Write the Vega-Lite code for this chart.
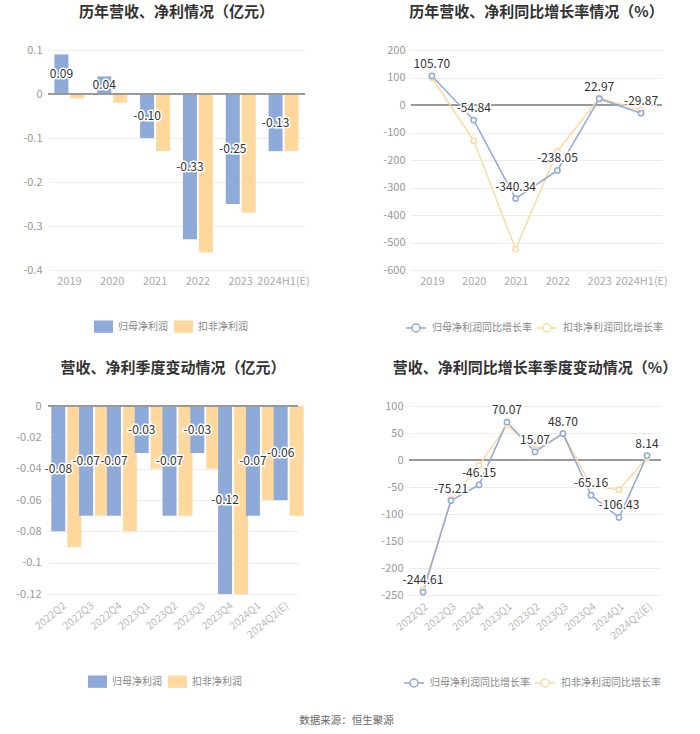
{
  "$schema": "https://vega.github.io/schema/vega-lite/v6.json",
  "background": "white",
  "padding": {"left": 15, "top": 5, "right": 5, "bottom": 5},
  "config": {
    "view": {"stroke": null},
    "font": "Noto Sans CJK SC",
    "locale": {"number": {"decimal": ".", "thousands": ",", "grouping": [3], "currency": ["", ""], "minus": "-"}},
    "axis": {"labelColor": "#999999", "labelFontSize": 11, "gridColor": "#ececec", "domain": false, "ticks": false, "title": null, "labelFont": "Noto Sans CJK SC"},
    "title": {"fontSize": 15, "fontWeight": "bold", "color": "#333333", "offset": 24, "font": "Noto Sans CJK SC"},
    "legend": {"labelColor": "#888888", "labelFontSize": 10, "labelFont": "Noto Sans CJK SC", "title": null}
  },
  "title": {"text": "数据来源：恒生聚源", "orient": "bottom", "anchor": "middle", "fontSize": 10.5, "fontWeight": "normal", "color": "#666666", "offset": 26},
  "spacing": 26,
  "resolve": {"scale": {"color": "independent"}},
  "vconcat": [
    {
      "spacing": 72,
      "resolve": {"scale": {"color": "independent"}},
      "hconcat": [
        {
          "width": 257,
          "height": 220,
          "title": "历年营收、净利情况（亿元）",
          "data": {"values": [
            {"period": "2019", "series": "归母净利润", "value": 0.09},
            {"period": "2019", "series": "扣非净利润", "value": -0.01},
            {"period": "2020", "series": "归母净利润", "value": 0.04},
            {"period": "2020", "series": "扣非净利润", "value": -0.02},
            {"period": "2021", "series": "归母净利润", "value": -0.10},
            {"period": "2021", "series": "扣非净利润", "value": -0.13},
            {"period": "2022", "series": "归母净利润", "value": -0.33},
            {"period": "2022", "series": "扣非净利润", "value": -0.36},
            {"period": "2023", "series": "归母净利润", "value": -0.25},
            {"period": "2023", "series": "扣非净利润", "value": -0.27},
            {"period": "2024H1(E)", "series": "归母净利润", "value": -0.13},
            {"period": "2024H1(E)", "series": "扣非净利润", "value": -0.13}
          ]},
          "layer": [
            {
              "layer": [
                {
                  "mark": {"type": "bar"},
                  "encoding": {
                    "x": {"field": "period", "type": "nominal", "sort": null, "scale": {"paddingInner": 0.3, "paddingOuter": 0.15}, "axis": {"labelAngle": 0, "grid": false, "labelPadding": 5, "labelColor": "#aaaaaa"}},
                    "xOffset": {"field": "series", "type": "nominal", "scale": {"domain": ["归母净利润", "扣非净利润"], "paddingInner": 0.125}},
                    "y": {"field": "value", "type": "quantitative", "scale": {"domain": [-0.4, 0.1]}, "axis": {"values": [-0.4, -0.3, -0.2, -0.1, 0, 0.1], "tickCount": 12, "format": "~g", "labelPadding": 6, "labelOverlap": false}},
                    "color": {"field": "series", "type": "nominal", "scale": {"domain": ["归母净利润", "扣非净利润"], "range": ["#8DAAD9", "#FFD89E"]},
                      "legend": {"orient": "none", "direction": "horizontal", "legendX": 46, "legendY": 267, "symbolType": "M-1,-0.65H1V0.65H-1Z", "symbolSize": 361, "symbolStrokeWidth": 0, "labelOffset": 5, "columnPadding": 6}}
                  }
                },
                {"mark": {"type": "rule", "color": "#999999", "strokeWidth": 1}, "encoding": {"y": {"datum": 0}}}
              ]
            },
            {
              "transform": [{"filter": "datum.series === '归母净利润'"}],
              "encoding": {
                "x": {"field": "period", "type": "nominal", "sort": null},
                "xOffset": {"field": "series", "type": "nominal"},
                "y": {"field": "value", "type": "quantitative", "scale": {"domain": [-0.8, 0.2]}, "axis": null},
                "text": {"field": "value", "type": "quantitative", "format": ".2f"}
              },
              "layer": [
                {"mark": {"type": "text", "fontSize": 12, "stroke": "white", "strokeWidth": 3, "fill": "white", "baseline": "middle"}},
                {"mark": {"type": "text", "fontSize": 12, "fill": "#333333", "baseline": "middle"}}
              ]
            }
          ],
          "resolve": {"scale": {"y": "independent"}}
        },
        {
          "width": 251,
          "height": 220,
          "title": "历年营收、净利同比增长率情况（%）",
          "data": {"values": [
            {"period": "2019", "series": "扣非净利润同比增长率", "value": 100},
            {"period": "2020", "series": "扣非净利润同比增长率", "value": -130},
            {"period": "2021", "series": "扣非净利润同比增长率", "value": -524},
            {"period": "2022", "series": "扣非净利润同比增长率", "value": -168},
            {"period": "2023", "series": "扣非净利润同比增长率", "value": 25},
            {"period": "2024H1(E)", "series": "扣非净利润同比增长率", "value": -18},
            {"period": "2019", "series": "归母净利润同比增长率", "value": 105.70},
            {"period": "2020", "series": "归母净利润同比增长率", "value": -54.84},
            {"period": "2021", "series": "归母净利润同比增长率", "value": -340.34},
            {"period": "2022", "series": "归母净利润同比增长率", "value": -238.05},
            {"period": "2023", "series": "归母净利润同比增长率", "value": 22.97},
            {"period": "2024H1(E)", "series": "归母净利润同比增长率", "value": -29.87}
          ]},
          "encoding": {
            "y": {"field": "value", "type": "quantitative", "scale": {"domain": [-600, 200]}, "axis": {"values": [-600, -500, -400, -300, -200, -100, 0, 100, 200], "tickCount": 12, "labelPadding": 6, "labelOverlap": false}}
          },
          "layer": [
            {"mark": {"type": "rule", "color": "#999999", "strokeWidth": 1}, "encoding": {"y": {"datum": 0}}},
            {
              "mark": {"type": "line", "strokeWidth": 1.5, "point": {"filled": false, "fill": "white", "size": 28, "strokeWidth": 1.5}},
              "encoding": {
                "x": {"field": "period", "type": "nominal", "sort": null, "scale": {"type": "point", "padding": 0.5}, "axis": {"labelAngle": 0, "grid": false, "labelPadding": 5, "labelColor": "#aaaaaa"}},
                "color": {"field": "series", "type": "nominal", "scale": {"domain": ["归母净利润同比增长率", "扣非净利润同比增长率"], "range": ["#8EA9DA", "#FDD9A1"]},
                  "legend": {"orient": "none", "direction": "horizontal", "legendX": -6, "legendY": 267, "symbolType": "M-1,0H-0.4M0.4,0H1M0.4,0A0.4,0.4,0,1,1,-0.4,0A0.4,0.4,0,1,1,0.4,0", "symbolSize": 400, "symbolStrokeWidth": 1.5, "symbolFillColor": "white", "labelOffset": 5, "columnPadding": 2}}
              }
            },
            {
              "transform": [{"filter": "datum.series === '归母净利润同比增长率'"}],
              "encoding": {
                "x": {"field": "period", "type": "nominal", "sort": null},
                "text": {"field": "value", "type": "quantitative", "format": ".2f"}
              },
              "layer": [
                {"mark": {"type": "text", "fontSize": 12, "stroke": "white", "strokeWidth": 3, "fill": "white", "baseline": "bottom", "dy": -5}},
                {"mark": {"type": "text", "fontSize": 12, "fill": "#333333", "baseline": "bottom", "dy": -5}}
              ]
            }
          ]
        }
      ]
    },
    {
      "spacing": 76,
      "resolve": {"scale": {"color": "independent"}},
      "hconcat": [
        {
          "width": 250,
          "height": 188,
          "title": "营收、净利季度变动情况（亿元）",
          "data": {"values": [
            {"period": "2022Q2", "series": "归母净利润", "value": -0.08},
            {"period": "2022Q2", "series": "扣非净利润", "value": -0.09},
            {"period": "2022Q3", "series": "归母净利润", "value": -0.07},
            {"period": "2022Q3", "series": "扣非净利润", "value": -0.07},
            {"period": "2022Q4", "series": "归母净利润", "value": -0.07},
            {"period": "2022Q4", "series": "扣非净利润", "value": -0.08},
            {"period": "2023Q1", "series": "归母净利润", "value": -0.03},
            {"period": "2023Q1", "series": "扣非净利润", "value": -0.04},
            {"period": "2023Q2", "series": "归母净利润", "value": -0.07},
            {"period": "2023Q2", "series": "扣非净利润", "value": -0.07},
            {"period": "2023Q3", "series": "归母净利润", "value": -0.03},
            {"period": "2023Q3", "series": "扣非净利润", "value": -0.04},
            {"period": "2023Q4", "series": "归母净利润", "value": -0.12},
            {"period": "2023Q4", "series": "扣非净利润", "value": -0.12},
            {"period": "2024Q1", "series": "归母净利润", "value": -0.07},
            {"period": "2024Q1", "series": "扣非净利润", "value": -0.06},
            {"period": "2024Q2(E)", "series": "归母净利润", "value": -0.06},
            {"period": "2024Q2(E)", "series": "扣非净利润", "value": -0.07}
          ]},
          "layer": [
            {
              "layer": [
                {
                  "mark": {"type": "bar"},
                  "encoding": {
                    "x": {"field": "period", "type": "nominal", "sort": null, "scale": {"paddingInner": 0.245, "paddingOuter": 0.12}, "axis": {"labelAngle": -40, "grid": false, "labelPadding": 6, "labelFontSize": 10.5, "labelColor": "#bbbbbb"}},
                    "xOffset": {"field": "series", "type": "nominal", "scale": {"domain": ["归母净利润", "扣非净利润"], "paddingInner": 0.2}},
                    "y": {"field": "value", "type": "quantitative", "scale": {"domain": [-0.12, 0]}, "axis": {"values": [-0.12, -0.1, -0.08, -0.06, -0.04, -0.02, 0], "tickCount": 12, "format": "~g", "labelPadding": 7, "labelOverlap": false}},
                    "color": {"field": "series", "type": "nominal", "scale": {"domain": ["归母净利润", "扣非净利润"], "range": ["#8DAAD9", "#FFD89E"]},
                      "legend": {"orient": "none", "direction": "horizontal", "legendX": 40, "legendY": 266, "symbolType": "M-1,-0.65H1V0.65H-1Z", "symbolSize": 361, "symbolStrokeWidth": 0, "labelOffset": 5, "columnPadding": 6}}
                  }
                },
                {"mark": {"type": "rule", "color": "#999999", "strokeWidth": 1}, "encoding": {"y": {"datum": 0}}}
              ]
            },
            {
              "transform": [{"filter": "datum.series === '归母净利润'"}],
              "encoding": {
                "x": {"field": "period", "type": "nominal", "sort": null},
                "xOffset": {"field": "series", "type": "nominal"},
                "y": {"field": "value", "type": "quantitative", "scale": {"domain": [-0.24, 0]}, "axis": null},
                "text": {"field": "value", "type": "quantitative", "format": ".2f"}
              },
              "layer": [
                {"mark": {"type": "text", "fontSize": 12, "stroke": "white", "strokeWidth": 3, "fill": "white", "baseline": "middle"}},
                {"mark": {"type": "text", "fontSize": 12, "fill": "#333333", "baseline": "middle"}}
              ]
            }
          ],
          "resolve": {"scale": {"y": "independent"}}
        },
        {
          "width": 252,
          "height": 189,
          "title": "营收、净利同比增长率季度变动情况（%）",
          "data": {"values": [
            {"period": "2022Q2", "series": "扣非净利润同比增长率", "value": -240},
            {"period": "2022Q3", "series": "扣非净利润同比增长率", "value": -73},
            {"period": "2022Q4", "series": "扣非净利润同比增长率", "value": -10},
            {"period": "2023Q1", "series": "扣非净利润同比增长率", "value": 65},
            {"period": "2023Q2", "series": "扣非净利润同比增长率", "value": 19},
            {"period": "2023Q3", "series": "扣非净利润同比增长率", "value": 49},
            {"period": "2023Q4", "series": "扣非净利润同比增长率", "value": -48},
            {"period": "2024Q1", "series": "扣非净利润同比增长率", "value": -55},
            {"period": "2024Q2(E)", "series": "扣非净利润同比增长率", "value": 4},
            {"period": "2022Q2", "series": "归母净利润同比增长率", "value": -244.61},
            {"period": "2022Q3", "series": "归母净利润同比增长率", "value": -75.21},
            {"period": "2022Q4", "series": "归母净利润同比增长率", "value": -46.15},
            {"period": "2023Q1", "series": "归母净利润同比增长率", "value": 70.07},
            {"period": "2023Q2", "series": "归母净利润同比增长率", "value": 15.07},
            {"period": "2023Q3", "series": "归母净利润同比增长率", "value": 48.70},
            {"period": "2023Q4", "series": "归母净利润同比增长率", "value": -65.16},
            {"period": "2024Q1", "series": "归母净利润同比增长率", "value": -106.43},
            {"period": "2024Q2(E)", "series": "归母净利润同比增长率", "value": 8.14}
          ]},
          "encoding": {
            "y": {"field": "value", "type": "quantitative", "scale": {"domain": [-250, 100]}, "axis": {"values": [-250, -200, -150, -100, -50, 0, 50, 100], "tickCount": 12, "labelPadding": 6, "labelOverlap": false}}
          },
          "layer": [
            {"mark": {"type": "rule", "color": "#999999", "strokeWidth": 1}, "encoding": {"y": {"datum": 0}}},
            {
              "mark": {"type": "line", "strokeWidth": 1.5, "point": {"filled": false, "fill": "white", "size": 28, "strokeWidth": 1.5}},
              "encoding": {
                "x": {"field": "period", "type": "nominal", "sort": null, "scale": {"type": "point", "padding": 0.5}, "axis": {"labelAngle": -40, "grid": false, "labelPadding": 6, "labelFontSize": 10.5, "labelColor": "#bbbbbb"}},
                "color": {"field": "series", "type": "nominal", "scale": {"domain": ["归母净利润同比增长率", "扣非净利润同比增长率"], "range": ["#8EA9DA", "#FDD9A1"]},
                  "legend": {"orient": "none", "direction": "horizontal", "legendX": -6, "legendY": 266, "symbolType": "M-1,0H-0.4M0.4,0H1M0.4,0A0.4,0.4,0,1,1,-0.4,0A0.4,0.4,0,1,1,0.4,0", "symbolSize": 400, "symbolStrokeWidth": 1.5, "symbolFillColor": "white", "labelOffset": 5, "columnPadding": 2}}
              }
            },
            {
              "transform": [{"filter": "datum.series === '归母净利润同比增长率'"}],
              "encoding": {
                "x": {"field": "period", "type": "nominal", "sort": null},
                "text": {"field": "value", "type": "quantitative", "format": ".2f"}
              },
              "layer": [
                {"mark": {"type": "text", "fontSize": 12, "stroke": "white", "strokeWidth": 3, "fill": "white", "baseline": "bottom", "dy": -5}},
                {"mark": {"type": "text", "fontSize": 12, "fill": "#333333", "baseline": "bottom", "dy": -5}}
              ]
            }
          ]
        }
      ]
    }
  ]
}
